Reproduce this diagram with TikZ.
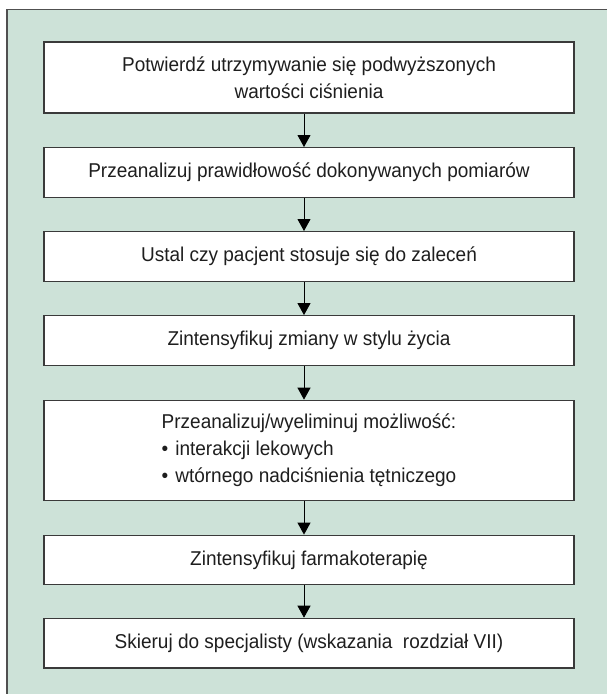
\documentclass[tikz,border=0pt]{standalone}
\usepackage{fontspec}
\setmainfont{Liberation Sans}[FakeStretch=0.95]
\usetikzlibrary{arrows.meta}
\definecolor{bggreen}{HTML}{CDE2D8}
\definecolor{frame}{HTML}{505050}
\definecolor{boxline}{HTML}{3A3A3A}
\definecolor{txt}{HTML}{1E1E1E}
\newcommand{\blt}{•\hspace{0.35em}}
\tikzset{
  stepbox/.style={draw=boxline, line width=1.3pt, fill=white, minimum width=530pt,
    inner sep=0pt, text=txt, font=\fontsize{20pt}{27pt}\selectfont},
  arr/.style={draw=black, line width=0.9pt, -{Triangle[width=13pt,length=12pt]}}
}
\begin{document}
\begin{tikzpicture}[x=1pt,y=-1pt]
\useasboundingbox (0,0) rectangle (607,694);
\fill[white] (0,0) rectangle (607,694);
\fill[bggreen] (7,9.5) rectangle (607,694);
\draw[frame, line width=1.3pt] (7,694) -- (7,9.5) -- (607,9.5);
\coordinate (ax) at (304,0);
\node[stepbox, minimum height=71pt, align=center] (b1) at (309,77.5)
  {Potwierdź utrzymywanie się podwyższonych\\wartości ciśnienia};
\node[stepbox, minimum height=49.5pt, align=center] (b2) at (309,172.4)
  {Przeanalizuj prawidłowość dokonywanych pomiarów};
\node[stepbox, minimum height=49.5pt, align=center] (b3) at (309,256.4)
  {Ustal czy pacjent stosuje się do zaleceń};
\node[stepbox, minimum height=50pt, align=center] (b4) at (309,340.7)
  {Zintensyfikuj zmiany w stylu życia};
\node[stepbox, minimum height=100pt, align=left] (b5) at (309,450.3)
  {Przeanalizuj/wyeliminuj możliwość:\\\blt interakcji lekowych\\\blt wtórnego nadciśnienia tętniczego};
\node[stepbox, minimum height=49.5pt, align=center] (b6) at (309,560)
  {Zintensyfikuj farmakoterapię};
\node[stepbox, minimum height=49.7pt, align=center] (b7) at (309,643.2)
  {Skieruj do specjalisty (wskazania\ \ rozdział VII)};
\foreach \a/\b in {b1/b2,b2/b3,b3/b4,b4/b5,b5/b6,b6/b7}
  \draw[arr] (\a.south -| ax) -- (\b.north -| ax);
\end{tikzpicture}
\end{document}
